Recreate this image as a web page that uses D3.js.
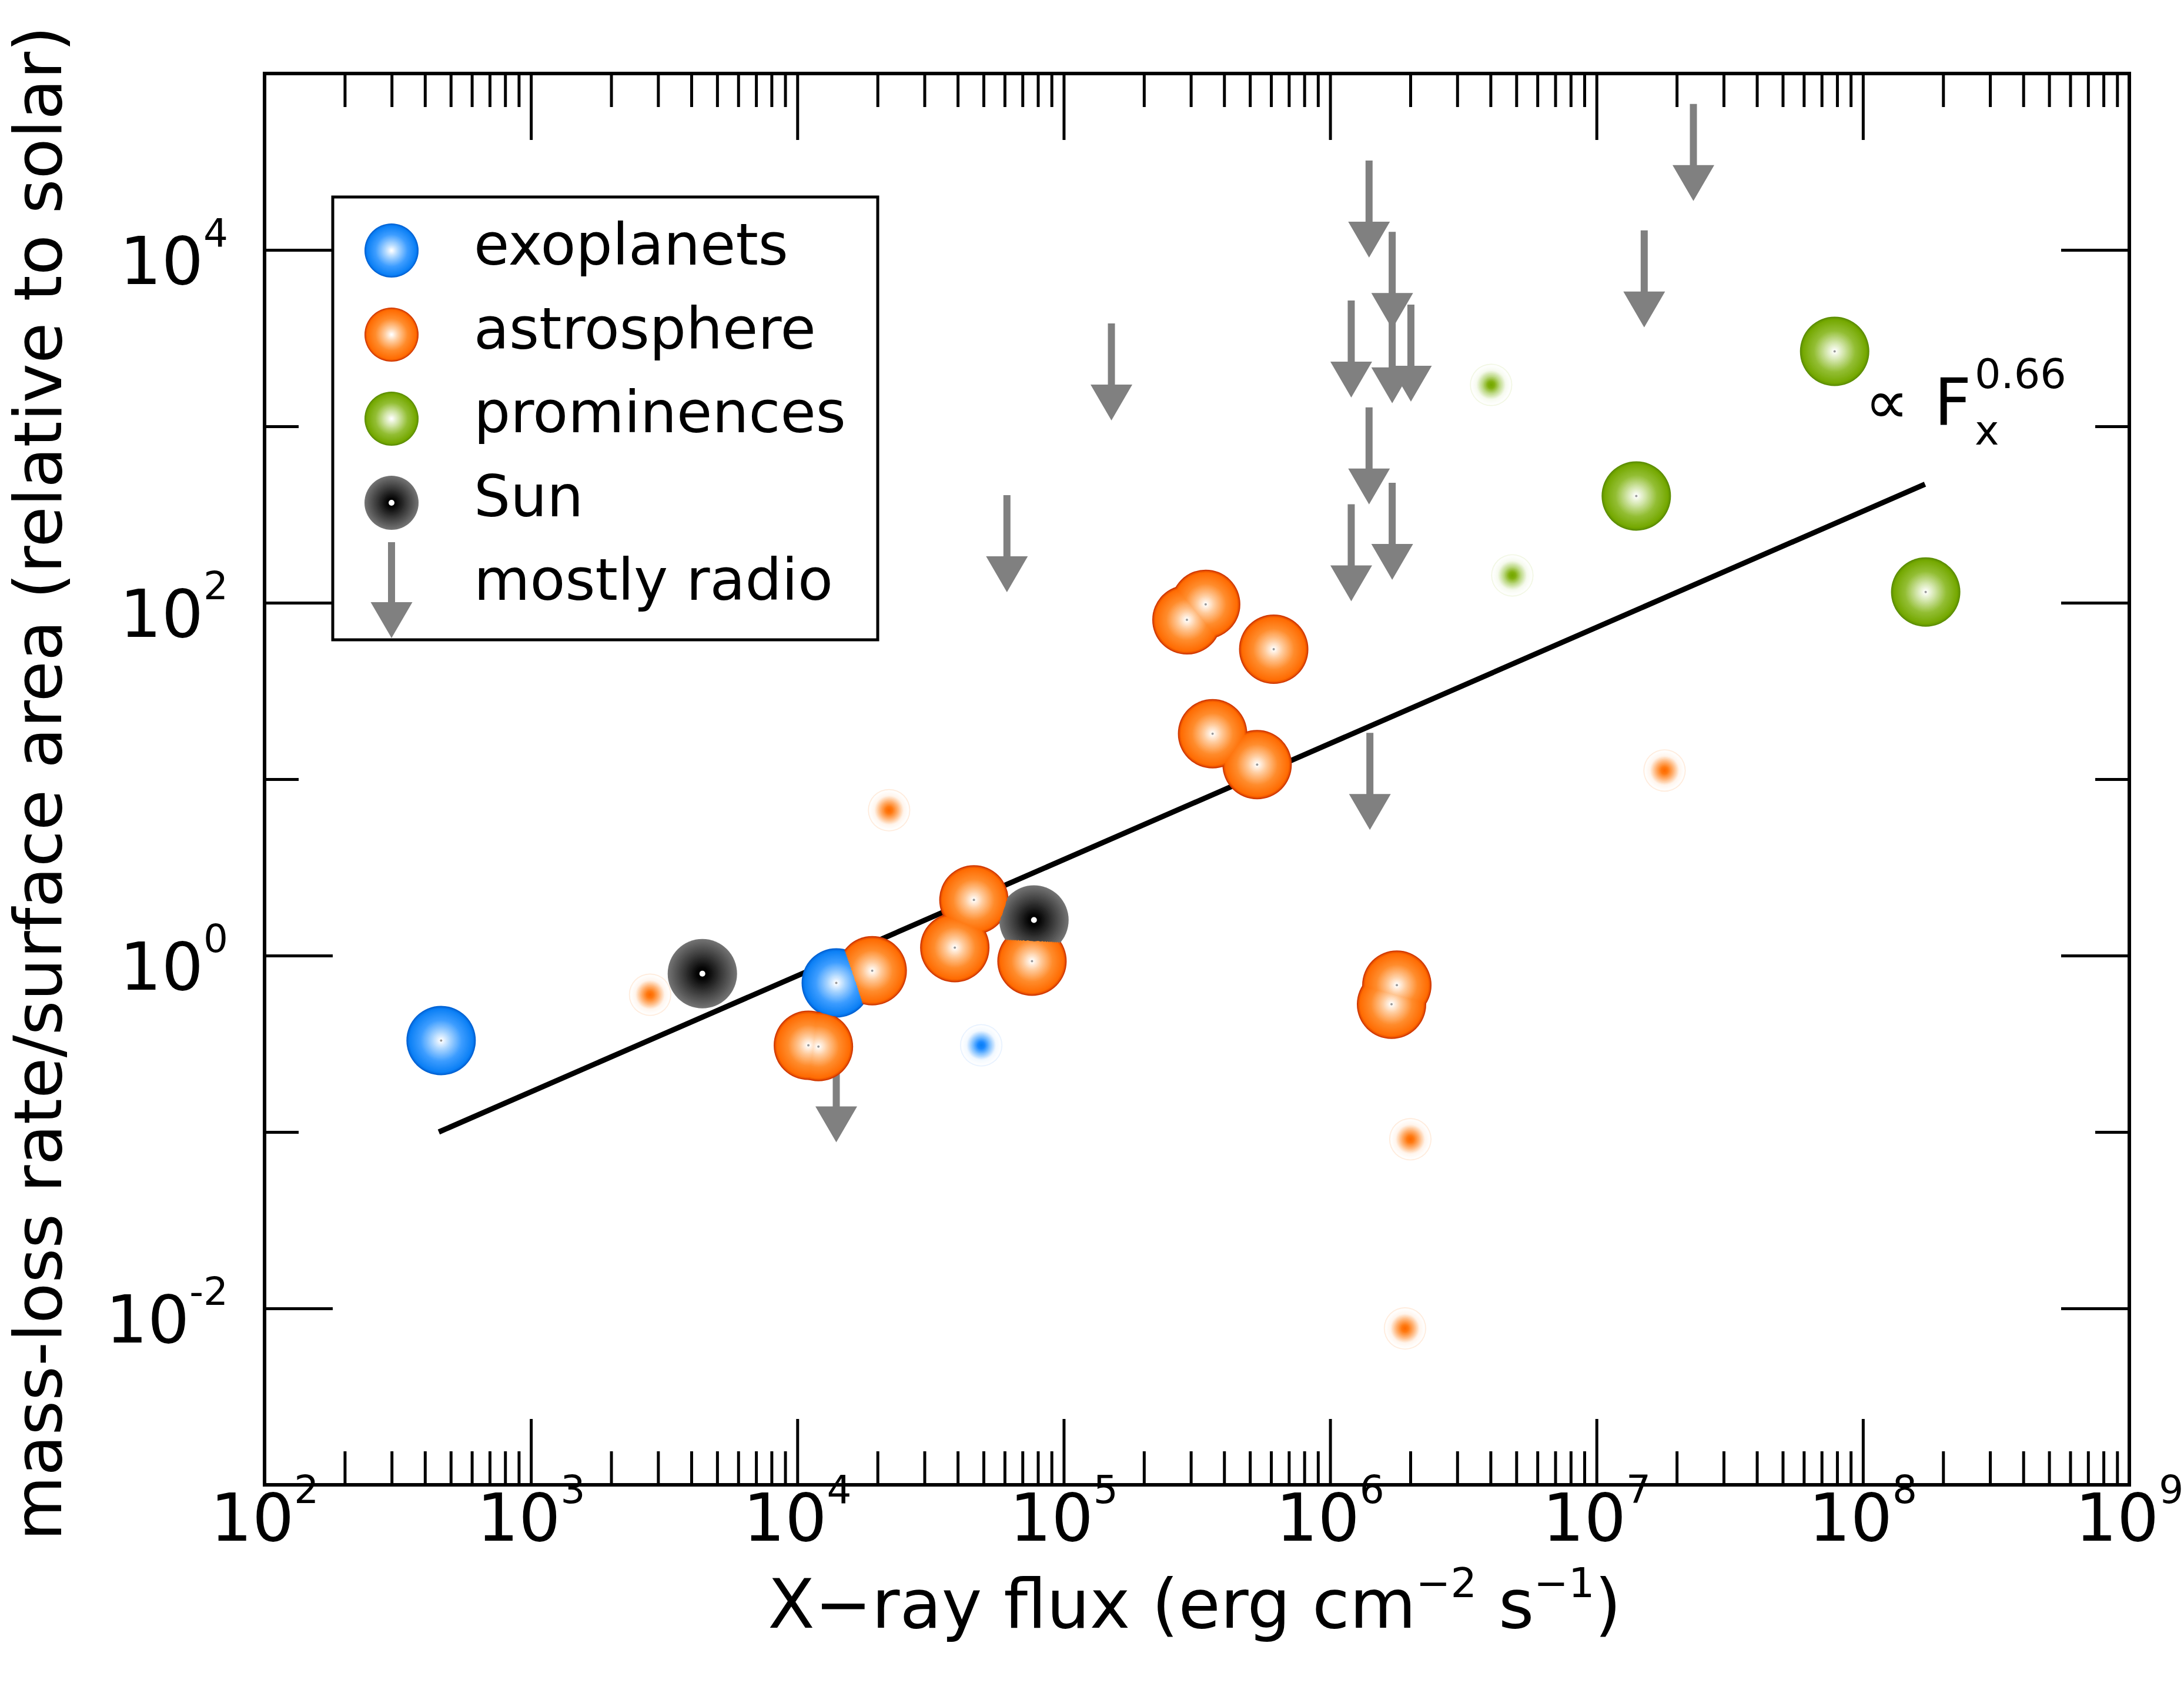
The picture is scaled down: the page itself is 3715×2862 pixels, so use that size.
<!DOCTYPE html>
<html>
<head>
<meta charset="utf-8">
<style>
  body { margin: 0; background: #fff; }
  text { font-family: "DejaVu Sans", sans-serif; fill: #000; }
</style>
</head>
<body></body>

<script src="https://d3js.org/d3.v7.min.js"></script>

<script>

// ---- data (x = X-ray flux, y = mass-loss rate / area) ----
var exoBig   = [[460, 0.33], [14000, 0.70]];
var exoSmall = [[49000, 0.31]];

var astroBig = [[19100, 0.82], [11000, 0.31], [12000, 0.305], [46000, 2.07],
                [39000, 1.11], [76000, 0.93], [290000, 80], [341000, 98],
                [614000, 54.5], [362000, 18.1], [532000, 12.1],
                [1.78e6, 0.68], [1.70e6, 0.53]];
var astroSmall = [[2800, 0.60], [22100, 6.67], [2.0e6, 0.091], [1.91e6, 0.0077], [1.80e7, 11.2]];

var promBig   = [[7.83e7, 2660], [1.41e7, 403], [1.72e8, 115]];
var promSmall = [[4.02e6, 1718], [4.83e6, 143]];

var sunPts = [[4400, 0.79], [77300, 1.59]];

// upper limits ("mostly radio"), value = top of the arrow
var radioLimits = [[14000, 0.31], [61200, 407], [151000, 3830], [1.41e6, 18.3],
                   [1.40e6, 32100], [1.71e6, 12650], [1.20e6, 5170], [1.71e6, 4800],
                   [2.01e6, 4900], [1.40e6, 1282], [1.20e6, 362], [1.71e6, 479],
                   [1.51e7, 12900], [2.31e7, 67200]];

// power-law fit  ~ F_x^0.66 (end points)
var fitLine = [[451, 0.100], [1.71e8, 470]];

var xLabelExp = ["2", "3", "4", "5", "6", "7", "8", "9"];
var yMajor    = [1e-2, 1e-1, 1e0, 1e1, 1e2, 1e3, 1e4];
var yLabelExp = ["-2", "0", "2", "4"];
var legendLabels = ["exoplanets", "astrosphere", "prominences", "Sun", "mostly radio"];

// ---- layout ----
var W = 3715, H = 2862;
var margin = { top: 125, right: 93, bottom: 337, left: 450 }
  , width = W - margin.left - margin.right
  , height = H - margin.top - margin.bottom;

var x = d3.scaleLog().domain([1e2, 1e9]).range([0, width]);
var y = d3.scaleLog().domain([1e-3, 1e5]).range([height, 0]);

var svg = d3.select("body").append("svg")
    .attr("width", W)
    .attr("height", H);

var g = svg.append("g")
    .attr("transform", "translate(" + margin.left + "," + margin.top + ")");

// colour ramps, t = 0 at rim, 1 at centre
function ramp(stops, cols) {
  return d3.scaleLinear().domain(stops).range(cols).interpolate(d3.interpolateRgb);
}
var ramps = {
  exo:   ramp([0, 0.06, 0.4, 0.75, 1], ["#0062d4", "#0a7ff5", "#3d9dff", "#a8d4ff", "#ffffff"]),
  astro: ramp([0, 0.06, 0.4, 0.75, 1], ["#d23a00", "#ff6a00", "#ff8c2c", "#ffcb9c", "#ffffff"]),
  prom:  ramp([0, 0.06, 0.4, 0.75, 1], ["#5c8e00", "#74a800", "#93be34", "#d3e6ac", "#ffffff"]),
  sun:   ramp([0, 0.45, 0.85, 1], ["#727272", "#3a3a3a", "#050505", "#000000"])
};
var smallRamps = {
  exo:   ramp([0, 0.05, 0.3, 0.6, 0.85, 1], ["#e4f0ff", "#ffffff", "#f2f8ff", "#80c0ff", "#1a88ff", "#0a7ff5"]),
  astro: ramp([0, 0.05, 0.3, 0.6, 0.85, 1], ["#ffe9d8", "#ffffff", "#fff5ec", "#ffb070", "#ff7a12", "#ff6a00"]),
  prom:  ramp([0, 0.05, 0.3, 0.6, 0.85, 1], ["#f0f6e0", "#ffffff", "#f6faee", "#bcd884", "#82b010", "#74a800"])
};

var NLEV = 26, RBIG = 59, RSMALL = 36, RLEG = 46;

// ---- arrows (drawn under the markers) ----
function arrowPath(cx, top, shaft, headH, headW, len) {
  var hs = shaft / 2, hw = headW / 2, yb = top + len - headH;
  return "M" + (cx - hs) + "," + top + "L" + (cx + hs) + "," + top +
         "L" + (cx + hs) + "," + yb + "L" + (cx + hw) + "," + yb +
         "L" + cx + "," + (top + len) + "L" + (cx - hw) + "," + yb +
         "L" + (cx - hs) + "," + yb + "Z";
}

g.append("g").selectAll("path")
    .data(radioLimits)
  .enter().append("path")
    .attr("d", d => arrowPath(x(d[0]), y(d[1]), 12, 61, 71, 165))
    .attr("fill", "#808080");

// ---- fit line ----
g.append("path")
    .datum(fitLine)
    .attr("d", d3.line().x(d => x(d[0])).y(d => y(d[1])))
    .attr("stroke", "#000")
    .attr("stroke-width", 9)
    .attr("fill", "none");

// ---- small (faint) markers ----
var smalls = [];
exoSmall.forEach(d => smalls.push({ p: d, c: "exo" }));
astroSmall.forEach(d => smalls.push({ p: d, c: "astro" }));
promSmall.forEach(d => smalls.push({ p: d, c: "prom" }));

var smallRings = [];
for (var k = 0; k < NLEV; k++)
  smalls.forEach(s => smallRings.push({ p: s.p, c: s.c, k: k }));

g.append("g").selectAll("circle")
    .data(smallRings)
  .enter().append("circle")
    .attr("cx", d => x(d.p[0]))
    .attr("cy", d => y(d.p[1]))
    .attr("r", d => RSMALL * (1 - d.k / NLEV))
    .attr("fill", d => smallRamps[d.c](d.k / (NLEV - 1)));

// ---- big markers, ring by ring so overlapping discs split like the original ----
var bigs = [];
exoBig.forEach(d => bigs.push({ p: d, c: "exo" }));
astroBig.forEach(d => bigs.push({ p: d, c: "astro" }));
promBig.forEach(d => bigs.push({ p: d, c: "prom" }));
sunPts.forEach(d => bigs.push({ p: d, c: "sun" }));

var rings = [];
for (var k = 0; k < NLEV; k++)
  bigs.forEach(b => rings.push({ p: b.p, c: b.c, k: k }));

g.append("g").selectAll("circle")
    .data(rings)
  .enter().append("circle")
    .attr("cx", d => x(d.p[0]))
    .attr("cy", d => y(d.p[1]))
    .attr("r", d => RBIG * (1 - d.k / NLEV))
    .attr("fill", d => ramps[d.c](d.k / (NLEV - 1)));

g.append("g").selectAll("circle")
    .data(bigs)
  .enter().append("circle")
    .attr("cx", d => x(d.p[0]))
    .attr("cy", d => y(d.p[1]))
    .attr("r", d => d.c == "sun" ? 5 : 2)
    .attr("fill", d => d.c == "sun" ? "#fff" : "#9a9a9a");

// ---- axes: ticks pointing inward on all four sides ----
function styleAxis(sel) {
  sel.select(".domain").remove();
  sel.selectAll("line").attr("stroke", "#000").attr("stroke-width", 5);
}
function isPow10(v) { return Math.abs(Math.log10(v) - Math.round(Math.log10(v))) < 1e-6; }

var xt = x.ticks();

g.append("g")
    .attr("transform", "translate(0," + height + ")")
    .call(d3.axisBottom(x).tickValues(xt).tickSize(-57).tickSizeOuter(0).tickFormat(""))
    .call(styleAxis)
    .selectAll(".tick line").filter(d => isPow10(d)).attr("y2", -112);

g.append("g")
    .call(d3.axisTop(x).tickValues(xt).tickSize(-57).tickSizeOuter(0).tickFormat(""))
    .call(styleAxis)
    .selectAll(".tick line").filter(d => isPow10(d)).attr("y2", 113);

g.append("g")
    .call(d3.axisLeft(y).tickValues(yMajor).tickSize(-58).tickSizeOuter(0).tickFormat(""))
    .call(styleAxis)
    .selectAll(".tick line").filter(d => Math.round(Math.log10(d)) % 2 == 0).attr("x2", 116);

g.append("g")
    .attr("transform", "translate(" + width + ",0)")
    .call(d3.axisRight(y).tickValues(yMajor).tickSize(-58).tickSizeOuter(0).tickFormat(""))
    .call(styleAxis)
    .selectAll(".tick line").filter(d => Math.round(Math.log10(d)) % 2 == 0).attr("x2", -116);

g.append("rect")
    .attr("width", width)
    .attr("height", height)
    .attr("fill", "none")
    .attr("stroke", "#000")
    .attr("stroke-width", 6);

// ---- tick labels ----
var xl = g.append("g").selectAll("text")
    .data(xLabelExp)
  .enter().append("text")
    .attr("x", d => x(Math.pow(10, +d)))
    .attr("y", height + 95)
    .attr("text-anchor", "middle")
    .attr("font-size", 112);
xl.append("tspan").text("10");
xl.append("tspan").attr("dy", -64).attr("font-size", 66).text(d => d);

var yl = g.append("g").selectAll("text")
    .data(yLabelExp)
  .enter().append("text")
    .attr("x", -62)
    .attr("y", d => y(Math.pow(10, +d)) + 58)
    .attr("text-anchor", "end")
    .attr("font-size", 112);
yl.append("tspan").text("10");
yl.append("tspan").attr("dy", -64).attr("font-size", 66).text(d => d);

// ---- axis titles ----
var xTitle = svg.append("text")
    .attr("x", 2032)
    .attr("y", 2768)
    .attr("text-anchor", "middle")
    .attr("font-size", 116);
xTitle.append("tspan").text("X\u2212ray flux (erg cm");
xTitle.append("tspan").attr("dy", -52).attr("font-size", 70).text("\u22122");
xTitle.append("tspan").attr("dy", 52).text(" s");
xTitle.append("tspan").attr("dy", -52).attr("font-size", 70).text("\u22121");
xTitle.append("tspan").attr("dy", 52).text(")");

svg.append("text")
    .attr("transform", "translate(104,1332) rotate(-90)")
    .attr("text-anchor", "middle")
    .attr("font-size", 113)
    .text("mass-loss rate/surface area (relative to solar)");

// ---- fit annotation ----
svg.append("text")
    .attr("x", 3172)
    .attr("y", 720)
    .attr("font-size", 105)
    .text("\u221d");
svg.append("text")
    .attr("x", 3290)
    .attr("y", 723)
    .attr("font-size", 110)
    .text("F");
svg.append("text")
    .attr("x", 3359)
    .attr("y", 756)
    .attr("font-size", 70)
    .text("x");
svg.append("text")
    .attr("x", 3359)
    .attr("y", 660)
    .attr("font-size", 70)
    .text("0.66");

// ---- legend ----
var leg = svg.append("g");
leg.append("rect")
    .attr("x", 566).attr("y", 335)
    .attr("width", 927).attr("height", 753)
    .attr("fill", "#fff")
    .attr("stroke", "#000")
    .attr("stroke-width", 5);

var legCats = ["exo", "astro", "prom", "sun"];
var legRings = [];
for (var k = 0; k < NLEV; k++)
  legCats.forEach((c, i) => legRings.push({ c: c, i: i, k: k }));

leg.selectAll("circle.ring")
    .data(legRings)
  .enter().append("circle")
    .attr("class", "ring")
    .attr("cx", 666)
    .attr("cy", d => 426 + d.i * 143)
    .attr("r", d => RLEG * (1 - d.k / NLEV))
    .attr("fill", d => ramps[d.c](d.k / (NLEV - 1)));

leg.append("circle")
    .attr("cx", 666).attr("cy", 426 + 3 * 143)
    .attr("r", 5).attr("fill", "#fff");

leg.append("path")
    .attr("d", arrowPath(666, 922, 12, 61, 71, 163))
    .attr("fill", "#808080");

leg.selectAll("text")
    .data(legendLabels)
  .enter().append("text")
    .attr("x", 806)
    .attr("y", (d, i) => 450 + i * 142.5)
    .attr("font-size", 98)
    .text(d => d);

</script>
</html>
